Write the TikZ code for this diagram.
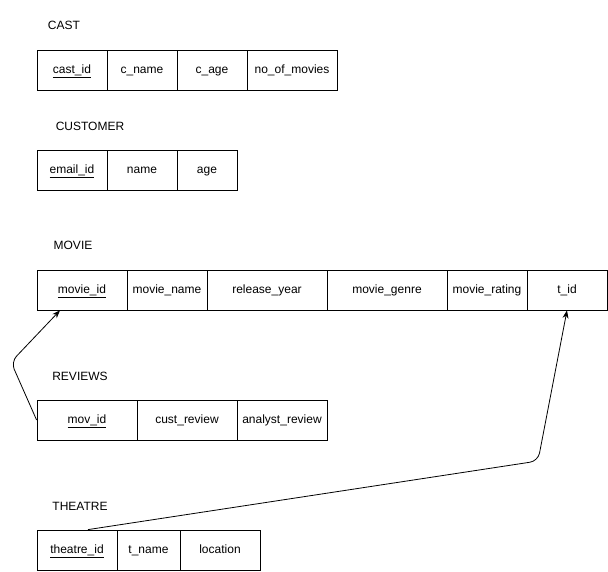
\documentclass[tikz,border=0pt]{standalone}
\usepackage{fontspec}
\setmainfont{Liberation Sans}
\usepackage{tikz}
\usetikzlibrary{arrows.meta, positioning, calc}

\begin{document}
\begin{tikzpicture}[
  x=1pt, y=-1pt,
  cell/.style={draw, line width=0.8pt, minimum height=40pt, inner sep=1pt,
               text height=9pt, text depth=3pt, font=\fontsize{12}{14}\selectfont},
  title/.style={font=\fontsize{12}{14}\selectfont},
  fk/.style={-{Stealth[length=8pt, width=6pt]}, line width=0.8pt, rounded corners=8pt},
]
\useasboundingbox (0,0) rectangle (608,571);

% CAST
\node[title] (castT) at (64,25) {CAST};
\node[cell, minimum width=70pt] (cast_id) at (72,70) {\underline{cast\_id}};
\node[cell, minimum width=70pt] (c_name) at (142,70) {c\_name};
\node[cell, minimum width=70pt] (c_age) at (212,70) {c\_age};
\node[cell, minimum width=90pt] (no_of_movies) at (292,70) {no\_of\_movies};

% CUSTOMER
\node[title] (customerT) at (90,126) {CUSTOMER};
\node[cell, minimum width=70pt] (email_id) at (72,170) {\underline{email\_id}};
\node[cell, minimum width=70pt] (name) at (142,170) {name};
\node[cell, minimum width=60pt] (age) at (207,170) {age};

% MOVIE
\node[title] (movieT) at (73,245) {MOVIE};
\node[cell, minimum width=90pt] (movie_id) at (82,290) {\underline{movie\_id}};
\node[cell, minimum width=80pt] (movie_name) at (167,290) {movie\_name};
\node[cell, minimum width=120pt] (release_year) at (267,290) {release\_year};
\node[cell, minimum width=120pt] (movie_genre) at (387,290) {movie\_genre};
\node[cell, minimum width=80pt] (movie_rating) at (487,290) {movie\_rating};
\node[cell, minimum width=80pt] (t_id) at (567,290) {t\_id};

% REVIEWS
\node[title] (reviewsT) at (80,376) {REVIEWS};
\node[cell, minimum width=100pt] (mov_id) at (87,420) {\underline{mov\_id}};
\node[cell, minimum width=100pt] (cust_review) at (187,420) {cust\_review};
\node[cell, minimum width=90pt] (analyst_review) at (282,420) {analyst\_review};

% THEATRE
\node[title] (theatreT) at (80,506) {THEATRE};
\node[cell, minimum width=80pt] (theatre_id) at (77,550) {\underline{theatre\_id}};
\node[cell, minimum width=63pt] (t_name) at (148.5,550) {t\_name};
\node[cell, minimum width=80pt] (location) at (220,550) {location};

% foreign keys
\coordinate (bendA) at (11,362);
\coordinate (bendB) at (538,461);
\draw[fk] (mov_id.west) -- (bendA) -- ($(movie_id.south)+(-22,0)$);
\draw[fk] ($(theatre_id.north)+(11,0)$) -- (bendB) -- (t_id.south);
\end{tikzpicture}
\end{document}
